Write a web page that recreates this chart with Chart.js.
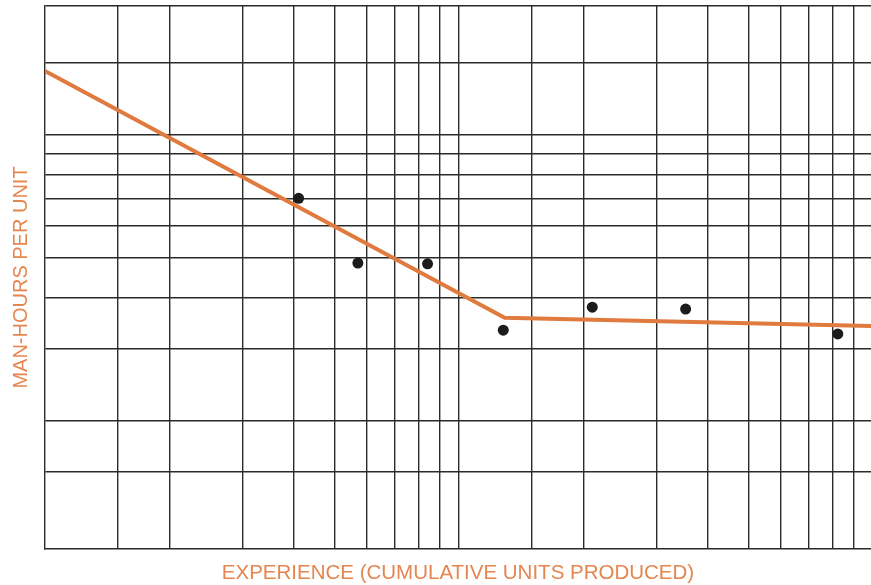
<!DOCTYPE html>
<html>
<head>
<meta charset="utf-8">
<script src="https://cdn.jsdelivr.net/npm/chart.js@4/dist/chart.umd.min.js"></script>
<style>
  html, body { margin: 0; padding: 0; background: #ffffff; overflow: hidden; }
  #wrap { width: 871px; height: 585px; position: relative; }
</style>
</head>
<body>
<div id="wrap"><canvas id="chart"></canvas></div>
<script>
// Log-log learning curve: experience (cumulative units) vs man-hours per unit
const xGridValues = [1.5, 2, 3, 4, 5, 6, 7, 8, 9, 10, 15, 20, 30, 40, 50, 60, 70, 80, 90];
const yGridValues = [1.5, 2, 3, 4, 5, 6, 7, 8, 9, 10, 15];
const xMin = 1, xMax = 99;
const yMin = 0.97, yMax = 20.7;

// Fitted experience curve (two segments)
const trendX = [1, 12.9, 99];
const trendY = [14.35, 3.57, 3.41];

// Observed production batches
const obsX = [4.1, 5.7, 8.4, 12.8, 21.0, 35.3, 82.3];
const obsY = [7.0, 4.86, 4.84, 3.33, 3.79, 3.75, 3.26];

const xTitle = 'EXPERIENCE (CUMULATIVE UNITS PRODUCED)';
const yTitle = 'MAN-HOURS PER UNIT';

const gridColor = '#2b2b2b';
const accent = '#E07A3E';
const titleColor = '#E5854F';

const toPoints = (xs, ys) => xs.map((x, i) => ({ x: x, y: ys[i] }));

new Chart(document.getElementById('chart'), {
  type: 'scatter',
  data: {
    datasets: [
      {
        label: 'Observed',
        data: toPoints(obsX, obsY),
        backgroundColor: '#1c1c1c',
        borderWidth: 0,
        pointRadius: 5.5,
        pointHoverRadius: 5.5,
        order: 0
      },
      {
        label: 'Trend',
        type: 'line',
        data: toPoints(trendX, trendY),
        borderColor: accent,
        borderWidth: 4,
        pointRadius: 0,
        tension: 0,
        fill: false,
        order: 1
      }
    ]
  },
  options: {
    responsive: true,
    maintainAspectRatio: false,
    animation: false,
    layout: { autoPadding: false, padding: { top: 6, right: 0, bottom: 0, left: 0 } },
    plugins: { legend: { display: false }, tooltip: { enabled: false } },
    scales: {
      x: {
        type: 'logarithmic',
        min: xMin,
        max: xMax,
        afterBuildTicks: (scale) => { scale.ticks = xGridValues.map(v => ({ value: v })); },
        ticks: { display: false },
        grid: { color: gridColor, lineWidth: 1.4, drawTicks: false },
        border: { display: true, color: gridColor, width: 1.4 },
        title: {
          display: true,
          text: xTitle,
          color: titleColor,
          font: { family: 'Liberation Sans, Arial, sans-serif', size: 20.5, weight: 'normal', lineHeight: 1.1 },
          padding: { top: 13.45, bottom: 0 }
        }
      },
      y: {
        type: 'logarithmic',
        min: yMin,
        max: yMax,
        afterBuildTicks: (scale) => { scale.ticks = yGridValues.concat([yMax]).map(v => ({ value: v })); },
        ticks: { display: false },
        grid: { color: gridColor, lineWidth: 1.4, drawTicks: false },
        border: { display: true, color: gridColor, width: 1.4 },
        title: {
          display: true,
          text: yTitle,
          color: titleColor,
          font: { family: 'Liberation Sans, Arial, sans-serif', size: 20, weight: 'normal' },
          padding: { top: 9, bottom: 12 }
        }
      }
    }
  }
});
</script>
</body>
</html>
